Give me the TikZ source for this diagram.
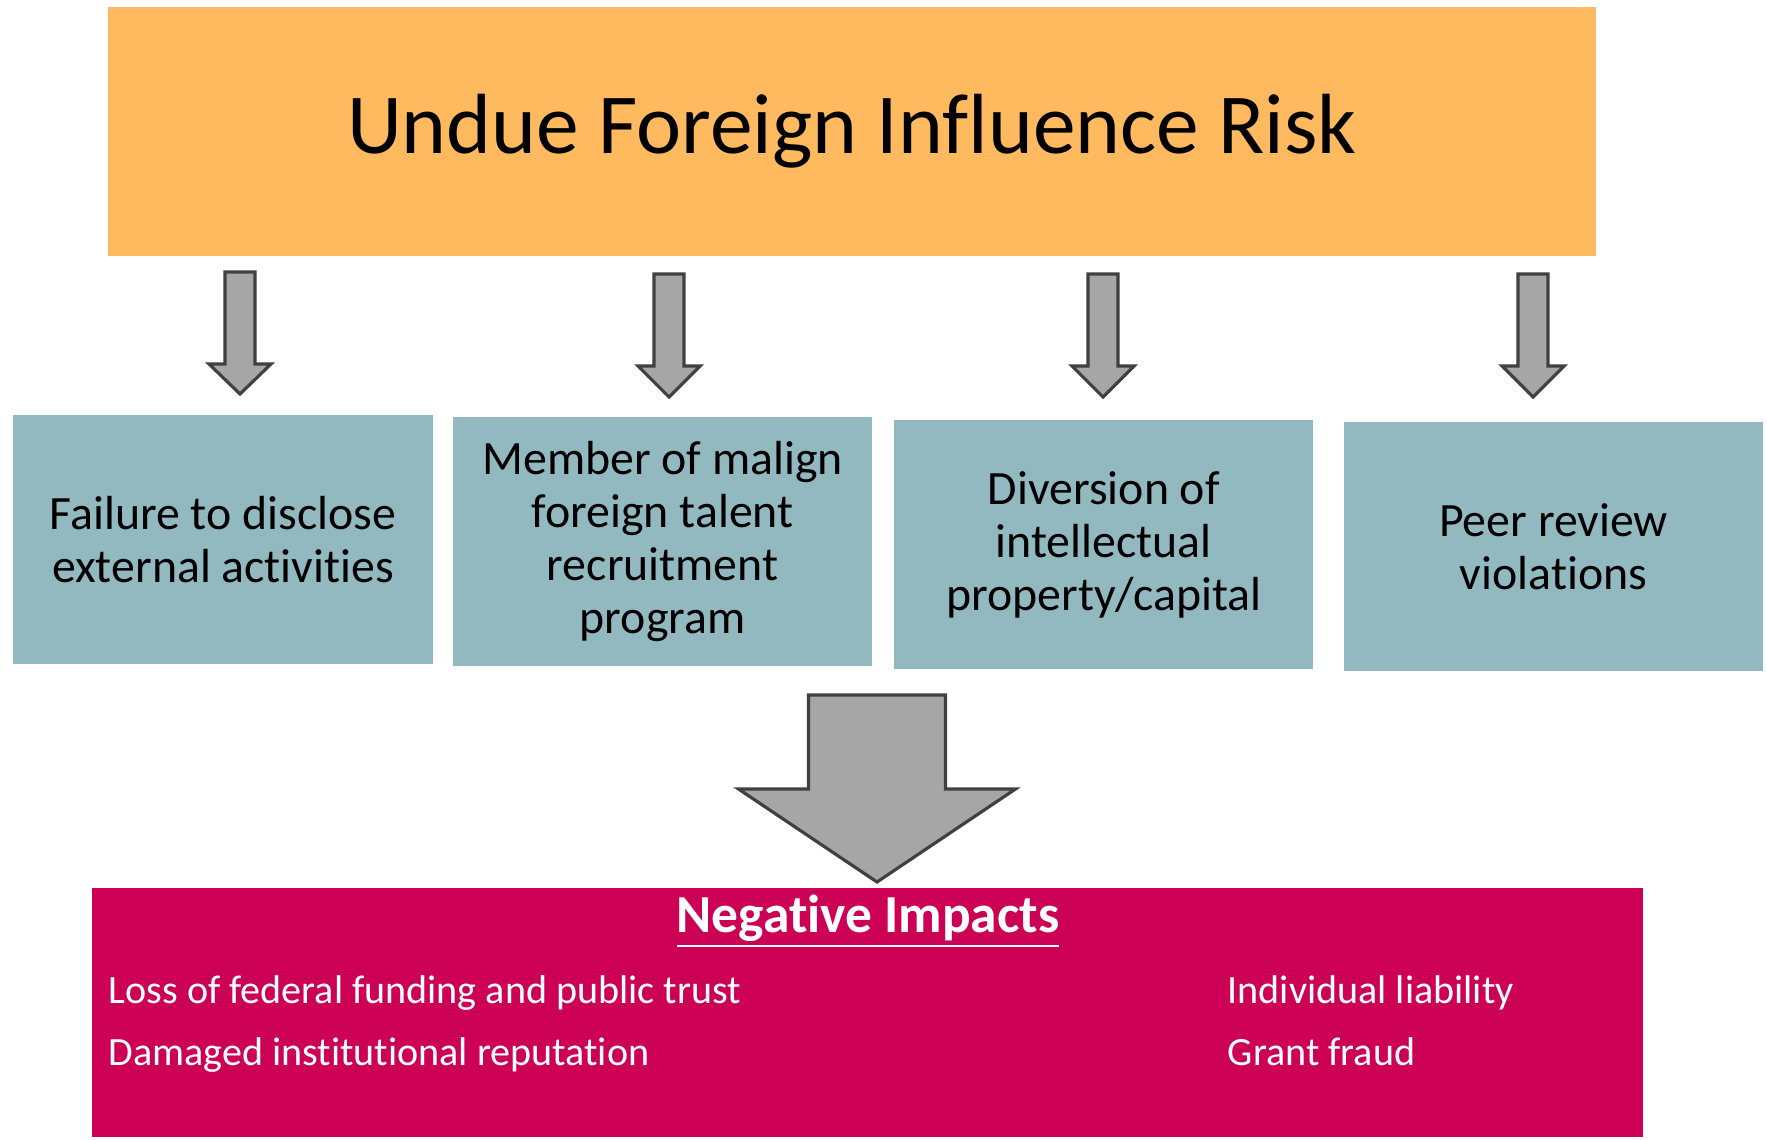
\documentclass[tikz,border=0pt]{standalone}
\usepackage{fontspec}
\setmainfont{Carlito}[Ligatures=NoCommon]
\usetikzlibrary{positioning}
\definecolor{RiskOrange}{RGB}{255,185,94}
\definecolor{CauseTeal}{RGB}{146,184,192}
\definecolor{ImpactRed}{RGB}{204,0,85}
\definecolor{ArrowGrey}{RGB}{166,166,166}
\definecolor{ArrowEdge}{RGB}{64,64,64}

% block arrow pointing down: x, top, head base, tip, half shaft, half head
\newcommand{\blockarrow}[6]{%
  \draw[blk] (#1-#5,#2) -- (#1+#5,#2) -- (#1+#5,#3) -- (#1+#6,#3) -- (#1,#4)
    -- (#1-#6,#3) -- (#1-#5,#3) -- cycle;}

\begin{document}
\begin{tikzpicture}[x=0.01cm, y=-0.01cm]
    \tikzset{ risk/.style  ={fill=RiskOrange, minimum width=14.88cm, minimum height=2.49cm, font=\fontsize{24.3}{29}\selectfont} }
    \tikzset{ cause/.style ={fill=CauseTeal, minimum width=4.19cm, minimum height=2.49cm, align=center, font=\fontsize{13.6}{15.1}\selectfont} }
    \tikzset{ impact/.style={fill=ImpactRed, minimum width=15.51cm, minimum height=2.49cm} }
    \tikzset{ item/.style  ={text=white, anchor=base west, inner sep=0pt, font=\fontsize{11.4}{13}\selectfont} }
    \tikzset{ blk/.style   ={fill=ArrowGrey, draw=ArrowEdge, line width=0.9pt, line join=miter} }

    \useasboundingbox (0,0) rectangle (1767,1139);

    \node[risk] (risk) at (852,131.5) {Undue Foreign Influence Risk};

    \node[cause                              ] (c1) at (223,539.5) {Failure to disclose\\external activities};
    \node[cause, right=0.19cm of c1, yshift=-0.02cm] (c2) {Member of malign\\foreign talent\\recruitment\\program};
    \node[cause, right=0.205cm of c2, yshift=-0.03cm] (c3) {Diversion of\\intellectual\\property/capital};
    \node[cause, right=0.29cm of c3, yshift=-0.02cm] (c4) {Peer review\\violations};

    \blockarrow{240}{272}{364}{394}{15}{31}
    \blockarrow{669}{274}{366}{397}{15}{31}
    \blockarrow{1103}{274}{366}{397}{15}{31}
    \blockarrow{1533}{274}{366}{397}{15}{31}

    \node[impact] (imp) at (867.5,1012.5) {};
    \blockarrow{877}{695}{789}{882}{68.5}{138.5}

    \node[text=white, anchor=base, inner sep=0pt, font=\fontsize{15.2}{18}\bfseries] (head) at (868,932) {\underline{Negative Impacts}};
    \node[item] (i1) at (108,1003)  {Loss of federal funding and public trust};
    \node[item] (i2) at (108,1065)  {Damaged institutional reputation};
    \node[item] (i3) at (1227,1003) {Individual liability};
    \node[item] (i4) at (1227,1065) {Grant fraud};
\end{tikzpicture}
\end{document}
